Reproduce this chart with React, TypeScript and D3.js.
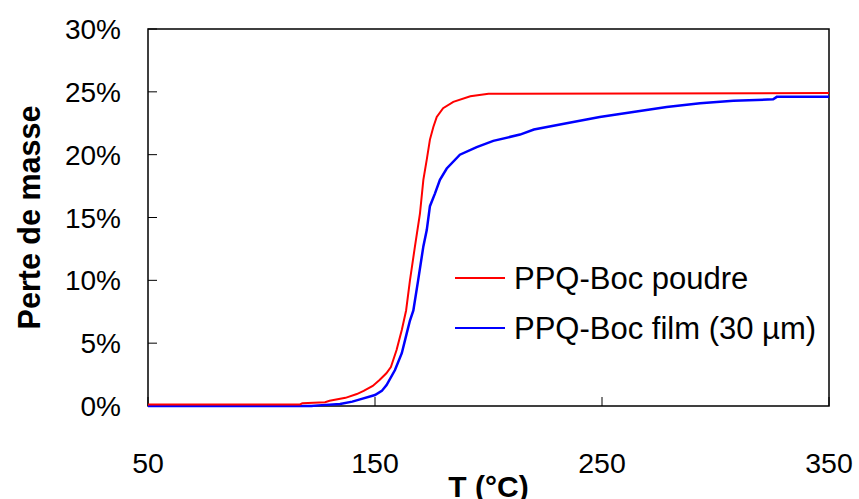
import React from "react";
import * as d3 from "d3";

const xTicks = [50, 150, 250, 350];
const yTicks = [0, 5, 10, 15, 20, 25, 30];

const poudreT = [50, 117, 118, 128, 130, 137, 142, 145, 149, 152, 155, 157, 159.5, 161.8, 163.7, 165.4, 167.6, 169.8, 171.3, 172.8, 174.2, 175.7, 177.2, 180, 184.5, 192, 200, 350];
const poudreP = [0.12, 0.12, 0.22, 0.3, 0.42, 0.65, 0.95, 1.2, 1.6, 2.07, 2.6, 3.1, 4.45, 6.05, 7.6, 10, 12.7, 15.3, 18, 19.6, 21.2, 22.2, 23, 23.7, 24.2, 24.65, 24.85, 24.9];

const filmT = [50, 122, 125, 134.6, 140, 143.4, 150, 153, 155.1, 158.8, 161.8, 164, 165.4, 166.9, 169, 171.3, 172.8, 174.2, 176.4, 178.6, 181.6, 187.4, 194.8, 202.1, 213.9, 220, 234.4, 249, 263.7, 278.5, 293.2, 307.9, 325.4, 327, 350];
const filmP = [0, 0, 0.05, 0.16, 0.35, 0.53, 0.87, 1.2, 1.67, 2.86, 4.2, 5.8, 6.8, 7.6, 10, 12.7, 14, 15.9, 16.9, 18, 18.9, 20, 20.6, 21.1, 21.6, 22.0, 22.5, 23.0, 23.4, 23.8, 24.1, 24.3, 24.4, 24.6, 24.6];

const seriesNames = ["PPQ-Boc poudre", "PPQ-Boc film (30 µm)"];
const seriesColors = ["#FF0000", "#0000FF"];

const W = 859, H = 499;
const L = 148, R = 829, T = 29, B = 406;
const FONT = "Liberation Sans, Arial, sans-serif";

export default function App() {
  const x = d3.scaleLinear().domain([50, 350]).range([L, R]);
  const y = d3.scaleLinear().domain([0, 30]).range([B, T]);
  const line = d3.line<[number, number]>().x(d => x(d[0])).y(d => y(d[1]));
  const series = [
    poudreT.map((t, i) => [t, poudreP[i]] as [number, number]),
    filmT.map((t, i) => [t, filmP[i]] as [number, number]),
  ];
  return (
    <svg width={W} height={H} style={{ position: "absolute", left: 0, top: 0, background: "#fff" }} fontFamily={FONT}>
      <rect x={0} y={0} width={W} height={H} fill="#fff" />
      <rect x={L} y={T} width={R - L} height={B - T} fill="none" stroke="#000" strokeWidth={1.5} />
      {yTicks.map(v => (
        <g key={"y" + v}>
          <line x1={L} x2={L + 9} y1={y(v)} y2={y(v)} stroke="#000" strokeWidth={1} />
          <text x={121} y={y(v)} dy="0.36em" textAnchor="end" fontSize={28}>{v}%</text>
        </g>
      ))}
      {xTicks.map(v => (
        <g key={"x" + v}>
          <line x1={x(v)} x2={x(v)} y1={B} y2={B - 9} stroke="#000" strokeWidth={1} />
          <text x={x(v)} y={473} textAnchor="middle" fontSize={28.5}>{v}</text>
        </g>
      ))}
      {[1, 0].map(i => (
        <path key={"s" + i} d={line(series[i]) || ""} fill="none" stroke={seriesColors[i]} strokeWidth={i === 1 ? 2.5 : 2} />
      ))}
      {seriesNames.map((n, i) => (
        <g key={"l" + i}>
          <line x1={455} x2={505} y1={278 + i * 50} y2={278 + i * 50} stroke={seriesColors[i]} strokeWidth={2} />
          <text x={514} y={278 + i * 50} dy="0.36em" fontSize={31}>{n}</text>
        </g>
      ))}
      <text x={(L + R) / 2} y={497} textAnchor="middle" fontSize={30} fontWeight="bold">T (°C)</text>
      <text transform={`translate(40,${(T + B) / 2}) rotate(-90)`} textAnchor="middle" fontSize={30.5} fontWeight="bold">Perte de masse</text>
    </svg>
  );
}
